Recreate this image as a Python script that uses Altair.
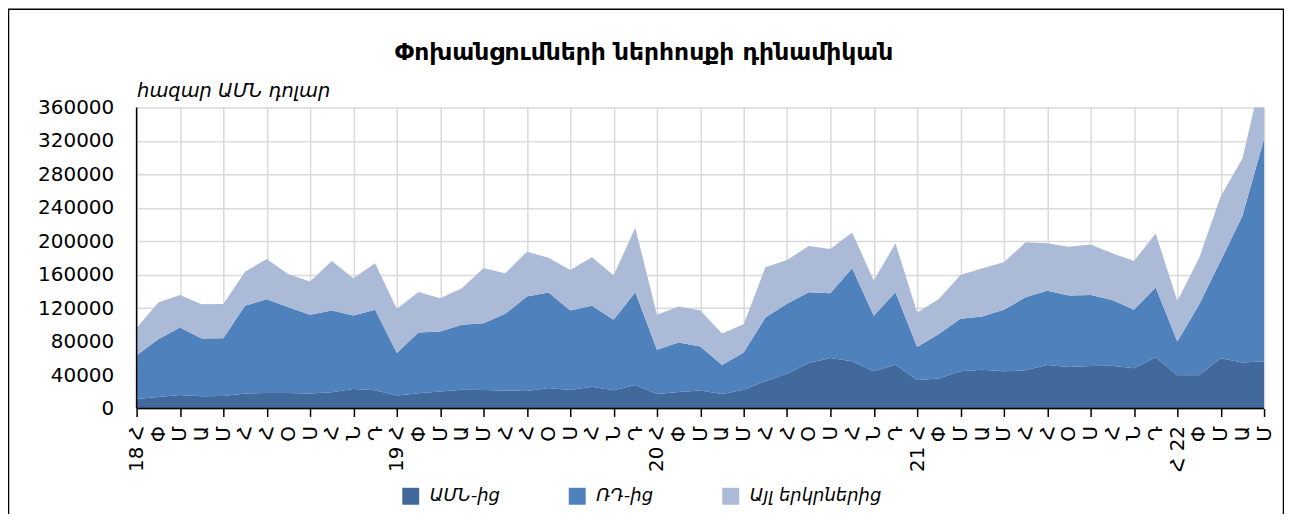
import json
import altair as alt
import pandas as pd

FONT = "DejaVu Sans"

TITLE = "Փոխանցումների ներհոսքի դինամիկան"
UNIT = "հազար ԱՄՆ դոլար"
SERIES = ["ԱՄՆ-ից", "ՌԴ-ից", "Այլ երկրներից"]
COLORS = ["#41699b", "#4f81bd", "#abbad7"]

MONTHS = ["Հ", "Փ", "Մ", "Ա", "Մ", "Հ", "Հ", "Օ", "Ս", "Հ", "Ն", "Դ"]
LABELS = (["18 Հ"] + MONTHS[1:] + ["19 Հ"] + MONTHS[1:] + ["20 Հ"] + MONTHS[1:]
          + ["21 Հ"] + MONTHS[1:] + ["Հ 22"] + MONTHS[1:5])

US = [11500, 13900, 16300, 14700, 14900, 17900, 18700, 18700, 17900, 19500, 23500, 21900,
      15500, 18300, 20300, 22600, 22300, 21700, 21100, 24600, 22300, 26200, 21900, 28200,
      17500, 19900, 21500, 17500, 22600, 32600, 41700, 54400, 60400, 56400, 44500, 52500,
      34200, 35800, 44500, 46500, 44500, 45700, 52100, 49700, 50900, 51300, 48100, 61200,
      39700, 39700, 60000, 55200, 56400]
RU = [52100, 69100, 80600, 69100, 69100, 104900, 112100, 102500, 94200, 97700, 87800, 96100,
      50900, 72700, 71900, 77500, 79800, 91500, 112800, 114100, 94900, 96600, 84200, 110900,
      52800, 59100, 52800, 34500, 44500, 76200, 83500, 84700, 77500, 111300, 66400, 86600,
      39300, 53200, 62800, 63500, 73500, 87400, 88600, 85400, 85000, 78600, 69900, 83400,
      40600, 84300, 116800, 174900, 266300]
OTHER = [32600, 43700, 39000, 41000, 41000, 40900, 48000, 39300, 39700, 59200, 44500, 55600,
         52800, 48500, 39700, 43800, 65600, 48500, 53600, 41700, 48500, 58000, 53200, 77000,
         41800, 43000, 42900, 37800, 33800, 60100, 52400, 55200, 52800, 42900, 42100, 58400,
         41300, 42100, 52400, 57700, 56900, 65600, 56800, 58400, 60400, 55700, 58400, 64800,
         48400, 55600, 77100, 68700, 87300]

rows = []
for k, (name, arr) in enumerate(zip(SERIES, [US, RU, OTHER])):
    for i, v in enumerate(arr):
        rows.append({"i": i, "v": v, "s": name, "o": k})
df = pd.DataFrame(rows)
one = pd.DataFrame({"t": [TITLE]})

PLOT_W, PLOT_H = 1131, 302

even = {"condition": {"test": "datum.value % 2 === 0", "value": 1}, "value": 0}

x_axis = alt.Axis(
    values=list(range(len(LABELS))),
    labelExpr=json.dumps(LABELS, ensure_ascii=False) + "[datum.value]",
    labelAngle=270, labelAlign="right", labelBaseline="middle",
    labelFont=FONT, labelFontSize=20, labelColor="black",
    labelOverlap=False, labelFlush=False, labelPadding=9,
    ticks=True, tickSize=8, tickColor="black", tickWidth=1.5, tickOpacity=even,
    grid=True, gridColor="#d9d9d9", gridWidth=1.5, gridOpacity=even,
    domain=False, title=None,
)
y_axis = alt.Axis(
    values=list(range(0, 360001, 40000)), format="d",
    labelFont=FONT, labelFontSize=20, labelColor="black", labelPadding=23,
    labelOverlap=False,
    ticks=False, domain=False, grid=True, gridColor="#d9d9d9", gridWidth=1.5,
    title=UNIT, titleAngle=0, titleAlign="left", titleBaseline="alphabetic",
    titleX=0, titleY=-11, titleFont=FONT, titleFontSize=19.5,
    titleFontStyle="italic", titleFontWeight="normal", titleColor="black",
)

areas = alt.Chart(df).mark_area(clip=True, opacity=1).encode(
    x=alt.X("i:Q", scale=alt.Scale(domain=[0, 52], nice=False, zero=False), axis=x_axis),
    y=alt.Y("v:Q", stack="zero", scale=alt.Scale(domain=[0, 360000], nice=False), axis=y_axis),
    color=alt.Color("s:N", scale=alt.Scale(domain=SERIES, range=COLORS),
                    legend=alt.Legend(orient="none", legendX=266, legendY=381,
                                      direction="horizontal", title=None,
                                      symbolType="square", symbolSize=289,
                                      symbolStrokeWidth=0, symbolOpacity=1,
                                      labelFont=FONT, labelFontSize=18,
                                      labelFontStyle="italic", labelColor="black",
                                      columnPadding=68, labelOffset=10, padding=0,
                                      labelLimit=400)),
    order=alt.Order("o:Q", sort="ascending"),
)

# axis lines drawn above the areas
yline = alt.Chart(one).mark_rule(color="black", strokeWidth=1.5).encode(x=alt.value(0))
xline = alt.Chart(one).mark_rule(color="black", strokeWidth=1.5).encode(y=alt.value(PLOT_H))

border = alt.Chart(one).mark_rect(fillOpacity=0, stroke="black", strokeWidth=1.5).encode(
    x=alt.value(-128.5), x2=alt.value(1150.5), y=alt.value(-98.5), y2=alt.value(470))

title = alt.Chart(one).mark_text(font=FONT, fontSize=23.5, fontWeight="bold", align="center",
                                 baseline="alphabetic", color="black").encode(
    x=alt.value(509), y=alt.value(-48), text="t:N")

chart = alt.layer(border, areas, yline, xline, title).properties(
    width=PLOT_W, height=PLOT_H,
    padding={"left": 129, "top": 99, "right": 20, "bottom": 105},
    autosize=alt.AutoSizeParams(type="none"),
).configure_view(stroke="transparent")

chart.save("out.html", embed_options={"renderer": "svg", "actions": False})
